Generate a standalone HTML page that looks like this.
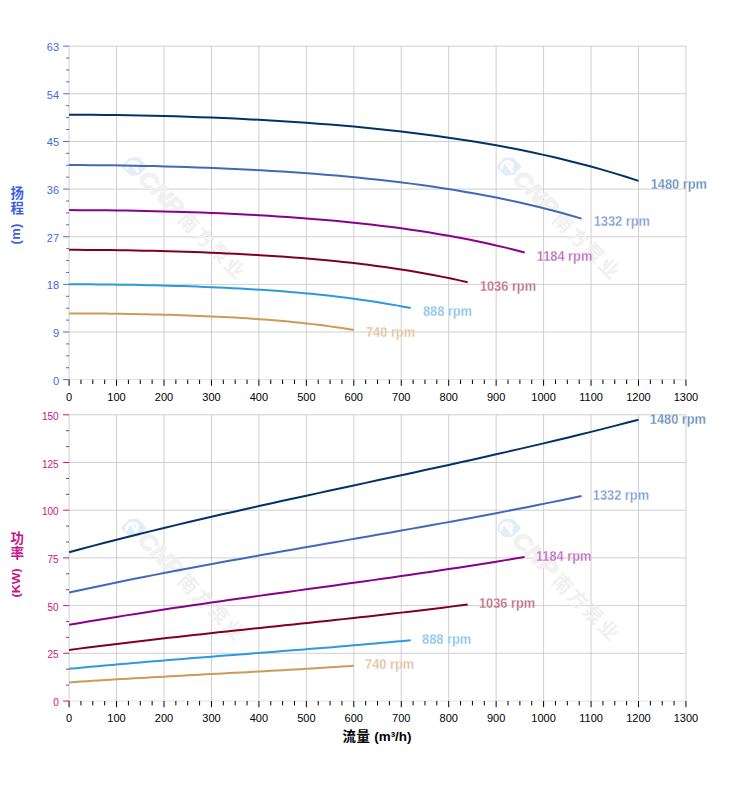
<!DOCTYPE html>
<html><head><meta charset="utf-8"><title>Pump curves</title>
<style>
html,body{margin:0;padding:0;background:#fff;overflow:hidden}
svg{display:block}
text{font-family:"Liberation Sans",sans-serif}
text.cjk{font-family:"Liberation Sans","Noto Sans CJK SC",sans-serif}
</style></head><body>
<svg width="752" height="797" viewBox="0 0 752 797">
<rect width="752" height="797" fill="#fff"/>
<g stroke="#cfcfcf" stroke-width="1" fill="none" shape-rendering="auto">
<line x1="69.1" y1="46.15" x2="69.1" y2="379.65"/>
<line x1="116.55" y1="46.15" x2="116.55" y2="379.65"/>
<line x1="164" y1="46.15" x2="164" y2="379.65"/>
<line x1="211.45" y1="46.15" x2="211.45" y2="379.65"/>
<line x1="258.9" y1="46.15" x2="258.9" y2="379.65"/>
<line x1="306.35" y1="46.15" x2="306.35" y2="379.65"/>
<line x1="353.8" y1="46.15" x2="353.8" y2="379.65"/>
<line x1="401.25" y1="46.15" x2="401.25" y2="379.65"/>
<line x1="448.7" y1="46.15" x2="448.7" y2="379.65"/>
<line x1="496.15" y1="46.15" x2="496.15" y2="379.65"/>
<line x1="543.6" y1="46.15" x2="543.6" y2="379.65"/>
<line x1="591.05" y1="46.15" x2="591.05" y2="379.65"/>
<line x1="638.5" y1="46.15" x2="638.5" y2="379.65"/>
<line x1="685.95" y1="46.15" x2="685.95" y2="379.65"/>
<line x1="69.1" y1="379.65" x2="685.95" y2="379.65" stroke="#e2e2e2"/>
<line x1="69.1" y1="332.01" x2="685.95" y2="332.01"/>
<line x1="69.1" y1="284.36" x2="685.95" y2="284.36"/>
<line x1="69.1" y1="236.72" x2="685.95" y2="236.72"/>
<line x1="69.1" y1="189.08" x2="685.95" y2="189.08"/>
<line x1="69.1" y1="141.44" x2="685.95" y2="141.44"/>
<line x1="69.1" y1="93.79" x2="685.95" y2="93.79"/>
<line x1="69.1" y1="46.15" x2="685.95" y2="46.15"/>
</g>
<g transform="translate(134.3 166.6)">
<path d="M-11 0 L-4.2 -7.4 L3.6 -7.9 L11 0 L4.2 7.2 L-3.4 7.6 Z" fill="#e2edf9" stroke="#e2edf9" stroke-width="3" stroke-linejoin="round"/>
<path d="M-7.3 1.6 C-7.8 -3.2 -2.6 -6.2 1.6 -4.4 C4.6 -3 4.4 0.4 1.4 1.4 M-1.8 -2.6 L3.2 4.6" stroke="#fff" stroke-width="2.9" fill="none" stroke-linecap="round"/>
</g>
<g transform="translate(135 166) rotate(45)">
<text x="11" y="8" font-size="22.5" font-weight="bold" font-style="italic" fill="#f1f1f1" stroke="#f1f1f1" stroke-width="1.4" textLength="53" lengthAdjust="spacingAndGlyphs">CNP</text>
<text class="cjk" x="68 89.6 111.2 132.8" y="9.1" font-size="19.5" font-weight="bold" fill="#f0f0f0">南方泵业</text>
</g>
<g transform="translate(508.8 166.6)">
<path d="M-11 0 L-4.2 -7.4 L3.6 -7.9 L11 0 L4.2 7.2 L-3.4 7.6 Z" fill="#e2edf9" stroke="#e2edf9" stroke-width="3" stroke-linejoin="round"/>
<path d="M-7.3 1.6 C-7.8 -3.2 -2.6 -6.2 1.6 -4.4 C4.6 -3 4.4 0.4 1.4 1.4 M-1.8 -2.6 L3.2 4.6" stroke="#fff" stroke-width="2.9" fill="none" stroke-linecap="round"/>
</g>
<g transform="translate(509.5 166) rotate(45)">
<text x="11" y="8" font-size="22.5" font-weight="bold" font-style="italic" fill="#f1f1f1" stroke="#f1f1f1" stroke-width="1.4" textLength="53" lengthAdjust="spacingAndGlyphs">CNP</text>
<text class="cjk" x="68 89.6 111.2 132.8" y="9.1" font-size="19.5" font-weight="bold" fill="#f0f0f0">南方泵业</text>
</g>
<g stroke="#4169e1" stroke-width="1">
<line x1="63.1" y1="379.65" x2="69.1" y2="379.65"/>
<line x1="66.1" y1="367.74" x2="69.1" y2="367.74"/>
<line x1="66.1" y1="355.83" x2="69.1" y2="355.83"/>
<line x1="66.1" y1="343.92" x2="69.1" y2="343.92"/>
<line x1="63.1" y1="332.01" x2="69.1" y2="332.01"/>
<line x1="66.1" y1="320.1" x2="69.1" y2="320.1"/>
<line x1="66.1" y1="308.19" x2="69.1" y2="308.19"/>
<line x1="66.1" y1="296.27" x2="69.1" y2="296.27"/>
<line x1="63.1" y1="284.36" x2="69.1" y2="284.36"/>
<line x1="66.1" y1="272.45" x2="69.1" y2="272.45"/>
<line x1="66.1" y1="260.54" x2="69.1" y2="260.54"/>
<line x1="66.1" y1="248.63" x2="69.1" y2="248.63"/>
<line x1="63.1" y1="236.72" x2="69.1" y2="236.72"/>
<line x1="66.1" y1="224.81" x2="69.1" y2="224.81"/>
<line x1="66.1" y1="212.9" x2="69.1" y2="212.9"/>
<line x1="66.1" y1="200.99" x2="69.1" y2="200.99"/>
<line x1="63.1" y1="189.08" x2="69.1" y2="189.08"/>
<line x1="66.1" y1="177.17" x2="69.1" y2="177.17"/>
<line x1="66.1" y1="165.26" x2="69.1" y2="165.26"/>
<line x1="66.1" y1="153.35" x2="69.1" y2="153.35"/>
<line x1="63.1" y1="141.44" x2="69.1" y2="141.44"/>
<line x1="66.1" y1="129.52" x2="69.1" y2="129.52"/>
<line x1="66.1" y1="117.61" x2="69.1" y2="117.61"/>
<line x1="66.1" y1="105.7" x2="69.1" y2="105.7"/>
<line x1="63.1" y1="93.79" x2="69.1" y2="93.79"/>
<line x1="66.1" y1="81.88" x2="69.1" y2="81.88"/>
<line x1="66.1" y1="69.97" x2="69.1" y2="69.97"/>
<line x1="66.1" y1="58.06" x2="69.1" y2="58.06"/>
<line x1="63.1" y1="46.15" x2="69.1" y2="46.15"/>
</g>
<g font-size="11" fill="#4169e1" text-anchor="end">
<text x="59.1" y="384.65">0</text>
<text x="59.1" y="337.01">9</text>
<text x="59.1" y="289.36">18</text>
<text x="59.1" y="241.72">27</text>
<text x="59.1" y="194.08">36</text>
<text x="59.1" y="146.44">45</text>
<text x="59.1" y="98.79">54</text>
<text x="59.1" y="51.15">63</text>
</g>
<g stroke="#000" stroke-width="1">
<line x1="69.1" y1="379.65" x2="69.1" y2="385.85"/>
<line x1="80.96" y1="379.65" x2="80.96" y2="384.05"/>
<line x1="92.82" y1="379.65" x2="92.82" y2="384.05"/>
<line x1="104.69" y1="379.65" x2="104.69" y2="384.05"/>
<line x1="116.55" y1="379.65" x2="116.55" y2="385.85"/>
<line x1="128.41" y1="379.65" x2="128.41" y2="384.05"/>
<line x1="140.27" y1="379.65" x2="140.27" y2="384.05"/>
<line x1="152.14" y1="379.65" x2="152.14" y2="384.05"/>
<line x1="164" y1="379.65" x2="164" y2="385.85"/>
<line x1="175.86" y1="379.65" x2="175.86" y2="384.05"/>
<line x1="187.72" y1="379.65" x2="187.72" y2="384.05"/>
<line x1="199.59" y1="379.65" x2="199.59" y2="384.05"/>
<line x1="211.45" y1="379.65" x2="211.45" y2="385.85"/>
<line x1="223.31" y1="379.65" x2="223.31" y2="384.05"/>
<line x1="235.17" y1="379.65" x2="235.17" y2="384.05"/>
<line x1="247.04" y1="379.65" x2="247.04" y2="384.05"/>
<line x1="258.9" y1="379.65" x2="258.9" y2="385.85"/>
<line x1="270.76" y1="379.65" x2="270.76" y2="384.05"/>
<line x1="282.62" y1="379.65" x2="282.62" y2="384.05"/>
<line x1="294.49" y1="379.65" x2="294.49" y2="384.05"/>
<line x1="306.35" y1="379.65" x2="306.35" y2="385.85"/>
<line x1="318.21" y1="379.65" x2="318.21" y2="384.05"/>
<line x1="330.07" y1="379.65" x2="330.07" y2="384.05"/>
<line x1="341.94" y1="379.65" x2="341.94" y2="384.05"/>
<line x1="353.8" y1="379.65" x2="353.8" y2="385.85"/>
<line x1="365.66" y1="379.65" x2="365.66" y2="384.05"/>
<line x1="377.52" y1="379.65" x2="377.52" y2="384.05"/>
<line x1="389.39" y1="379.65" x2="389.39" y2="384.05"/>
<line x1="401.25" y1="379.65" x2="401.25" y2="385.85"/>
<line x1="413.11" y1="379.65" x2="413.11" y2="384.05"/>
<line x1="424.98" y1="379.65" x2="424.98" y2="384.05"/>
<line x1="436.84" y1="379.65" x2="436.84" y2="384.05"/>
<line x1="448.7" y1="379.65" x2="448.7" y2="385.85"/>
<line x1="460.56" y1="379.65" x2="460.56" y2="384.05"/>
<line x1="472.42" y1="379.65" x2="472.42" y2="384.05"/>
<line x1="484.29" y1="379.65" x2="484.29" y2="384.05"/>
<line x1="496.15" y1="379.65" x2="496.15" y2="385.85"/>
<line x1="508.01" y1="379.65" x2="508.01" y2="384.05"/>
<line x1="519.88" y1="379.65" x2="519.88" y2="384.05"/>
<line x1="531.74" y1="379.65" x2="531.74" y2="384.05"/>
<line x1="543.6" y1="379.65" x2="543.6" y2="385.85"/>
<line x1="555.46" y1="379.65" x2="555.46" y2="384.05"/>
<line x1="567.32" y1="379.65" x2="567.32" y2="384.05"/>
<line x1="579.19" y1="379.65" x2="579.19" y2="384.05"/>
<line x1="591.05" y1="379.65" x2="591.05" y2="385.85"/>
<line x1="602.91" y1="379.65" x2="602.91" y2="384.05"/>
<line x1="614.77" y1="379.65" x2="614.77" y2="384.05"/>
<line x1="626.64" y1="379.65" x2="626.64" y2="384.05"/>
<line x1="638.5" y1="379.65" x2="638.5" y2="385.85"/>
<line x1="650.36" y1="379.65" x2="650.36" y2="384.05"/>
<line x1="662.23" y1="379.65" x2="662.23" y2="384.05"/>
<line x1="674.09" y1="379.65" x2="674.09" y2="384.05"/>
<line x1="685.95" y1="379.65" x2="685.95" y2="385.85"/>
</g>
<g font-size="11" fill="#000" text-anchor="middle">
<text x="69.1" y="401.15">0</text>
<text x="116.55" y="401.15">100</text>
<text x="164" y="401.15">200</text>
<text x="211.45" y="401.15">300</text>
<text x="258.9" y="401.15">400</text>
<text x="306.35" y="401.15">500</text>
<text x="353.8" y="401.15">600</text>
<text x="401.25" y="401.15">700</text>
<text x="448.7" y="401.15">800</text>
<text x="496.15" y="401.15">900</text>
<text x="543.6" y="401.15">1000</text>
<text x="591.05" y="401.15">1100</text>
<text x="638.5" y="401.15">1200</text>
<text x="685.95" y="401.15">1300</text>
</g>
<polyline points="69.1,114.77 80.96,114.78 92.82,114.85 104.69,114.94 116.55,115.08 128.41,115.26 140.27,115.48 152.14,115.73 164,116.02 175.86,116.35 187.72,116.72 199.59,117.13 211.45,117.58 223.31,118.07 235.17,118.6 247.04,119.18 258.9,119.8 270.76,120.47 282.62,121.18 294.49,121.95 306.35,122.77 318.21,123.64 330.07,124.57 341.94,125.55 353.8,126.61 365.66,127.72 377.52,128.91 389.39,130.16 401.25,131.49 413.11,132.91 424.98,134.4 436.84,135.98 448.7,137.65 460.56,139.42 472.42,141.29 484.29,143.26 496.15,145.34 508.01,147.54 519.88,149.85 531.74,152.29 543.6,154.86 555.46,157.57 567.32,160.42 579.19,163.42 591.05,166.58 602.91,169.89 614.77,173.37 626.64,177.03 638.5,180.87" fill="none" stroke="#003366" stroke-width="2" stroke-linecap="butt" stroke-linejoin="round"/>
<text transform="translate(650.7 188.5) scale(1 1.09)" font-size="12.8" font-weight="bold" fill="#5d8bbb" stroke="#fff" stroke-width="0.25">1480 rpm</text>
<polyline points="69.1,165.09 79.78,165.11 90.45,165.16 101.13,165.24 111.8,165.35 122.48,165.5 133.16,165.67 143.83,165.88 154.51,166.11 165.19,166.38 175.86,166.68 186.54,167.01 197.21,167.38 207.89,167.77 218.57,168.2 229.24,168.67 239.92,169.17 250.6,169.71 261.27,170.29 271.95,170.91 282.62,171.57 293.3,172.28 303.98,173.03 314.65,173.83 325.33,174.68 336.01,175.59 346.68,176.55 357.36,177.57 368.03,178.64 378.71,179.79 389.39,181 400.06,182.28 410.74,183.63 421.42,185.06 432.09,186.58 442.77,188.17 453.44,189.86 464.12,191.64 474.8,193.51 485.47,195.49 496.15,197.57 506.83,199.77 517.5,202.08 528.18,204.51 538.86,207.06 549.53,209.75 560.21,212.57 570.88,215.53 581.56,218.64" fill="none" stroke="#4169b8" stroke-width="2" stroke-linecap="butt" stroke-linejoin="round"/>
<text transform="translate(593.76 226.3) scale(1 1.09)" font-size="12.8" font-weight="bold" fill="#7a9bd6" stroke="#fff" stroke-width="0.25">1332 rpm</text>
<polyline points="69.1,210.12 78.59,210.14 88.08,210.17 97.57,210.24 107.06,210.33 116.55,210.44 126.04,210.58 135.53,210.74 145.02,210.93 154.51,211.14 164,211.38 173.49,211.64 182.98,211.93 192.47,212.24 201.96,212.58 211.45,212.95 220.94,213.35 230.43,213.77 239.92,214.23 249.41,214.72 258.9,215.24 268.39,215.8 277.88,216.4 287.37,217.03 296.86,217.7 306.35,218.42 315.84,219.17 325.33,219.98 334.82,220.83 344.31,221.73 353.8,222.69 363.29,223.7 372.78,224.77 382.27,225.9 391.76,227.1 401.25,228.36 410.74,229.69 420.23,231.1 429.72,232.58 439.21,234.14 448.7,235.79 458.19,237.52 467.68,239.34 477.17,241.26 486.66,243.28 496.15,245.4 505.64,247.63 515.13,249.97 524.62,252.43" fill="none" stroke="#8b008b" stroke-width="2" stroke-linecap="butt" stroke-linejoin="round"/>
<text transform="translate(536.82 260.8) scale(1 1.09)" font-size="12.8" font-weight="bold" fill="#b968b9" stroke="#fff" stroke-width="0.25">1184 rpm</text>
<polyline points="69.1,249.86 77.4,249.87 85.71,249.9 94.01,249.94 102.31,250.01 110.62,250.1 118.92,250.21 127.23,250.33 135.53,250.47 143.83,250.64 152.14,250.82 160.44,251.02 168.75,251.24 177.05,251.48 185.35,251.74 193.66,252.02 201.96,252.32 210.26,252.65 218.57,253 226.87,253.38 235.17,253.78 243.48,254.2 251.78,254.66 260.09,255.14 268.39,255.66 276.69,256.21 285,256.79 293.3,257.4 301.61,258.05 309.91,258.75 318.21,259.48 326.52,260.25 334.82,261.07 343.12,261.94 351.43,262.85 359.73,263.82 368.03,264.84 376.34,265.91 384.64,267.05 392.95,268.24 401.25,269.5 409.55,270.83 417.86,272.23 426.16,273.7 434.47,275.24 442.77,276.87 451.07,278.57 459.38,280.37 467.68,282.25" fill="none" stroke="#800020" stroke-width="2" stroke-linecap="butt" stroke-linejoin="round"/>
<text transform="translate(479.88 290.6) scale(1 1.09)" font-size="12.8" font-weight="bold" fill="#bb687e" stroke="#fff" stroke-width="0.25">1036 rpm</text>
<polyline points="69.1,284.29 76.22,284.3 83.33,284.32 90.45,284.36 97.57,284.41 104.69,284.47 111.8,284.55 118.92,284.64 126.04,284.74 133.16,284.86 140.27,285 147.39,285.14 154.51,285.31 161.63,285.48 168.75,285.67 175.86,285.88 182.98,286.1 190.1,286.34 197.21,286.6 204.33,286.88 211.45,287.17 218.57,287.49 225.68,287.82 232.8,288.18 239.92,288.55 247.04,288.96 254.15,289.38 261.27,289.83 268.39,290.31 275.51,290.82 282.62,291.36 289.74,291.93 296.86,292.53 303.98,293.17 311.09,293.84 318.21,294.55 325.33,295.3 332.45,296.09 339.56,296.92 346.68,297.8 353.8,298.73 360.92,299.7 368.03,300.73 375.15,301.81 382.27,302.94 389.39,304.14 396.5,305.39 403.62,306.71 410.74,308.09" fill="none" stroke="#2b9ade" stroke-width="2" stroke-linecap="butt" stroke-linejoin="round"/>
<text transform="translate(422.94 315.5) scale(1 1.09)" font-size="12.8" font-weight="bold" fill="#7fc1ec" stroke="#fff" stroke-width="0.25">888 rpm</text>
<polyline points="69.1,313.43 75.03,313.43 80.96,313.45 86.89,313.47 92.82,313.51 98.76,313.55 104.69,313.61 110.62,313.67 116.55,313.74 122.48,313.83 128.41,313.92 134.34,314.02 140.27,314.13 146.21,314.26 152.14,314.39 158.07,314.53 164,314.69 169.93,314.85 175.86,315.03 181.79,315.22 187.72,315.43 193.66,315.65 199.59,315.88 205.52,316.13 211.45,316.39 217.38,316.67 223.31,316.96 229.24,317.28 235.17,317.61 241.11,317.96 247.04,318.34 252.97,318.73 258.9,319.15 264.83,319.59 270.76,320.06 276.69,320.55 282.62,321.07 288.56,321.62 294.49,322.2 300.42,322.81 306.35,323.45 312.28,324.13 318.21,324.84 324.14,325.59 330.07,326.38 336.01,327.21 341.94,328.08 347.87,329 353.8,329.95" fill="none" stroke="#cd9a5b" stroke-width="2" stroke-linecap="butt" stroke-linejoin="round"/>
<text transform="translate(366 337.4) scale(1 1.09)" font-size="12.8" font-weight="bold" fill="#dfbd95" stroke="#fff" stroke-width="0.25">740 rpm</text>
<g stroke="#cfcfcf" stroke-width="1" fill="none" shape-rendering="auto">
<line x1="69.1" y1="414.8" x2="69.1" y2="701"/>
<line x1="116.55" y1="414.8" x2="116.55" y2="701"/>
<line x1="164" y1="414.8" x2="164" y2="701"/>
<line x1="211.45" y1="414.8" x2="211.45" y2="701"/>
<line x1="258.9" y1="414.8" x2="258.9" y2="701"/>
<line x1="306.35" y1="414.8" x2="306.35" y2="701"/>
<line x1="353.8" y1="414.8" x2="353.8" y2="701"/>
<line x1="401.25" y1="414.8" x2="401.25" y2="701"/>
<line x1="448.7" y1="414.8" x2="448.7" y2="701"/>
<line x1="496.15" y1="414.8" x2="496.15" y2="701"/>
<line x1="543.6" y1="414.8" x2="543.6" y2="701"/>
<line x1="591.05" y1="414.8" x2="591.05" y2="701"/>
<line x1="638.5" y1="414.8" x2="638.5" y2="701"/>
<line x1="685.95" y1="414.8" x2="685.95" y2="701"/>
<line x1="69.1" y1="701" x2="685.95" y2="701" stroke="#e2e2e2"/>
<line x1="69.1" y1="653.3" x2="685.95" y2="653.3"/>
<line x1="69.1" y1="605.6" x2="685.95" y2="605.6"/>
<line x1="69.1" y1="557.9" x2="685.95" y2="557.9"/>
<line x1="69.1" y1="510.2" x2="685.95" y2="510.2"/>
<line x1="69.1" y1="462.5" x2="685.95" y2="462.5"/>
<line x1="69.1" y1="414.8" x2="685.95" y2="414.8"/>
</g>
<g transform="translate(133.8 528.1)">
<path d="M-11 0 L-4.2 -7.4 L3.6 -7.9 L11 0 L4.2 7.2 L-3.4 7.6 Z" fill="#e2edf9" stroke="#e2edf9" stroke-width="3" stroke-linejoin="round"/>
<path d="M-7.3 1.6 C-7.8 -3.2 -2.6 -6.2 1.6 -4.4 C4.6 -3 4.4 0.4 1.4 1.4 M-1.8 -2.6 L3.2 4.6" stroke="#fff" stroke-width="2.9" fill="none" stroke-linecap="round"/>
</g>
<g transform="translate(134.5 527.5) rotate(45)">
<text x="11" y="8" font-size="22.5" font-weight="bold" font-style="italic" fill="#f1f1f1" stroke="#f1f1f1" stroke-width="1.4" textLength="53" lengthAdjust="spacingAndGlyphs">CNP</text>
<text class="cjk" x="68 89.6 111.2 132.8" y="9.1" font-size="19.5" font-weight="bold" fill="#f0f0f0">南方泵业</text>
</g>
<g transform="translate(508.3 528.1)">
<path d="M-11 0 L-4.2 -7.4 L3.6 -7.9 L11 0 L4.2 7.2 L-3.4 7.6 Z" fill="#e2edf9" stroke="#e2edf9" stroke-width="3" stroke-linejoin="round"/>
<path d="M-7.3 1.6 C-7.8 -3.2 -2.6 -6.2 1.6 -4.4 C4.6 -3 4.4 0.4 1.4 1.4 M-1.8 -2.6 L3.2 4.6" stroke="#fff" stroke-width="2.9" fill="none" stroke-linecap="round"/>
</g>
<g transform="translate(509 527.5) rotate(45)">
<text x="11" y="8" font-size="22.5" font-weight="bold" font-style="italic" fill="#f1f1f1" stroke="#f1f1f1" stroke-width="1.4" textLength="53" lengthAdjust="spacingAndGlyphs">CNP</text>
<text class="cjk" x="68 89.6 111.2 132.8" y="9.1" font-size="19.5" font-weight="bold" fill="#f0f0f0">南方泵业</text>
</g>
<g stroke="#c71585" stroke-width="1">
<line x1="63.1" y1="701" x2="69.1" y2="701"/>
<line x1="66.1" y1="685.1" x2="69.1" y2="685.1"/>
<line x1="66.1" y1="669.2" x2="69.1" y2="669.2"/>
<line x1="63.1" y1="653.3" x2="69.1" y2="653.3"/>
<line x1="66.1" y1="637.4" x2="69.1" y2="637.4"/>
<line x1="66.1" y1="621.5" x2="69.1" y2="621.5"/>
<line x1="63.1" y1="605.6" x2="69.1" y2="605.6"/>
<line x1="66.1" y1="589.7" x2="69.1" y2="589.7"/>
<line x1="66.1" y1="573.8" x2="69.1" y2="573.8"/>
<line x1="63.1" y1="557.9" x2="69.1" y2="557.9"/>
<line x1="66.1" y1="542" x2="69.1" y2="542"/>
<line x1="66.1" y1="526.1" x2="69.1" y2="526.1"/>
<line x1="63.1" y1="510.2" x2="69.1" y2="510.2"/>
<line x1="66.1" y1="494.3" x2="69.1" y2="494.3"/>
<line x1="66.1" y1="478.4" x2="69.1" y2="478.4"/>
<line x1="63.1" y1="462.5" x2="69.1" y2="462.5"/>
<line x1="66.1" y1="446.6" x2="69.1" y2="446.6"/>
<line x1="66.1" y1="430.7" x2="69.1" y2="430.7"/>
<line x1="63.1" y1="414.8" x2="69.1" y2="414.8"/>
</g>
<g font-size="10" fill="#c71585" text-anchor="end">
<text x="58.7" y="706.1">0</text>
<text x="58.7" y="658.4">25</text>
<text x="58.7" y="610.7">50</text>
<text x="58.7" y="563">75</text>
<text x="58.7" y="515.3">100</text>
<text x="58.7" y="467.6">125</text>
<text x="58.7" y="419.9">150</text>
</g>
<g stroke="#000" stroke-width="1">
<line x1="69.1" y1="701" x2="69.1" y2="707.2"/>
<line x1="80.96" y1="701" x2="80.96" y2="705.4"/>
<line x1="92.82" y1="701" x2="92.82" y2="705.4"/>
<line x1="104.69" y1="701" x2="104.69" y2="705.4"/>
<line x1="116.55" y1="701" x2="116.55" y2="707.2"/>
<line x1="128.41" y1="701" x2="128.41" y2="705.4"/>
<line x1="140.27" y1="701" x2="140.27" y2="705.4"/>
<line x1="152.14" y1="701" x2="152.14" y2="705.4"/>
<line x1="164" y1="701" x2="164" y2="707.2"/>
<line x1="175.86" y1="701" x2="175.86" y2="705.4"/>
<line x1="187.72" y1="701" x2="187.72" y2="705.4"/>
<line x1="199.59" y1="701" x2="199.59" y2="705.4"/>
<line x1="211.45" y1="701" x2="211.45" y2="707.2"/>
<line x1="223.31" y1="701" x2="223.31" y2="705.4"/>
<line x1="235.17" y1="701" x2="235.17" y2="705.4"/>
<line x1="247.04" y1="701" x2="247.04" y2="705.4"/>
<line x1="258.9" y1="701" x2="258.9" y2="707.2"/>
<line x1="270.76" y1="701" x2="270.76" y2="705.4"/>
<line x1="282.62" y1="701" x2="282.62" y2="705.4"/>
<line x1="294.49" y1="701" x2="294.49" y2="705.4"/>
<line x1="306.35" y1="701" x2="306.35" y2="707.2"/>
<line x1="318.21" y1="701" x2="318.21" y2="705.4"/>
<line x1="330.07" y1="701" x2="330.07" y2="705.4"/>
<line x1="341.94" y1="701" x2="341.94" y2="705.4"/>
<line x1="353.8" y1="701" x2="353.8" y2="707.2"/>
<line x1="365.66" y1="701" x2="365.66" y2="705.4"/>
<line x1="377.52" y1="701" x2="377.52" y2="705.4"/>
<line x1="389.39" y1="701" x2="389.39" y2="705.4"/>
<line x1="401.25" y1="701" x2="401.25" y2="707.2"/>
<line x1="413.11" y1="701" x2="413.11" y2="705.4"/>
<line x1="424.98" y1="701" x2="424.98" y2="705.4"/>
<line x1="436.84" y1="701" x2="436.84" y2="705.4"/>
<line x1="448.7" y1="701" x2="448.7" y2="707.2"/>
<line x1="460.56" y1="701" x2="460.56" y2="705.4"/>
<line x1="472.42" y1="701" x2="472.42" y2="705.4"/>
<line x1="484.29" y1="701" x2="484.29" y2="705.4"/>
<line x1="496.15" y1="701" x2="496.15" y2="707.2"/>
<line x1="508.01" y1="701" x2="508.01" y2="705.4"/>
<line x1="519.88" y1="701" x2="519.88" y2="705.4"/>
<line x1="531.74" y1="701" x2="531.74" y2="705.4"/>
<line x1="543.6" y1="701" x2="543.6" y2="707.2"/>
<line x1="555.46" y1="701" x2="555.46" y2="705.4"/>
<line x1="567.32" y1="701" x2="567.32" y2="705.4"/>
<line x1="579.19" y1="701" x2="579.19" y2="705.4"/>
<line x1="591.05" y1="701" x2="591.05" y2="707.2"/>
<line x1="602.91" y1="701" x2="602.91" y2="705.4"/>
<line x1="614.77" y1="701" x2="614.77" y2="705.4"/>
<line x1="626.64" y1="701" x2="626.64" y2="705.4"/>
<line x1="638.5" y1="701" x2="638.5" y2="707.2"/>
<line x1="650.36" y1="701" x2="650.36" y2="705.4"/>
<line x1="662.23" y1="701" x2="662.23" y2="705.4"/>
<line x1="674.09" y1="701" x2="674.09" y2="705.4"/>
<line x1="685.95" y1="701" x2="685.95" y2="707.2"/>
</g>
<g font-size="11" fill="#000" text-anchor="middle">
<text x="69.1" y="721.9">0</text>
<text x="116.55" y="721.9">100</text>
<text x="164" y="721.9">200</text>
<text x="211.45" y="721.9">300</text>
<text x="258.9" y="721.9">400</text>
<text x="306.35" y="721.9">500</text>
<text x="353.8" y="721.9">600</text>
<text x="401.25" y="721.9">700</text>
<text x="448.7" y="721.9">800</text>
<text x="496.15" y="721.9">900</text>
<text x="543.6" y="721.9">1000</text>
<text x="591.05" y="721.9">1100</text>
<text x="638.5" y="721.9">1200</text>
<text x="685.95" y="721.9">1300</text>
</g>
<polyline points="69.1,552.22 80.96,549.02 92.82,545.88 104.69,542.78 116.55,539.73 128.41,536.73 140.27,533.77 152.14,530.86 164,527.98 175.86,525.14 187.72,522.33 199.59,519.55 211.45,516.81 223.31,514.09 235.17,511.4 247.04,508.74 258.9,506.09 270.76,503.46 282.62,500.85 294.49,498.26 306.35,495.68 318.21,493.11 330.07,490.54 341.94,487.99 353.8,485.44 365.66,482.89 377.52,480.33 389.39,477.78 401.25,475.22 413.11,472.66 424.98,470.08 436.84,467.5 448.7,464.9 460.56,462.28 472.42,459.65 484.29,457 496.15,454.32 508.01,451.62 519.88,448.9 531.74,446.14 543.6,443.36 555.46,440.54 567.32,437.68 579.19,434.79 591.05,431.86 602.91,428.89 614.77,425.87 626.64,422.8 638.5,419.69" fill="none" stroke="#003366" stroke-width="2" stroke-linecap="butt" stroke-linejoin="round"/>
<text transform="translate(649.8 423.8) scale(1 1.09)" font-size="12.8" font-weight="bold" fill="#5d8bbb" stroke="#fff" stroke-width="0.25">1480 rpm</text>
<polyline points="69.1,592.54 79.78,590.21 90.45,587.92 101.13,585.66 111.8,583.44 122.48,581.25 133.16,579.09 143.83,576.97 154.51,574.87 165.19,572.79 175.86,570.75 186.54,568.73 197.21,566.73 207.89,564.74 218.57,562.78 229.24,560.84 239.92,558.91 250.6,557 261.27,555.09 271.95,553.2 282.62,551.32 293.3,549.45 303.98,547.58 314.65,545.71 325.33,543.85 336.01,541.99 346.68,540.13 357.36,538.27 368.03,536.41 378.71,534.54 389.39,532.66 400.06,530.78 410.74,528.88 421.42,526.98 432.09,525.06 442.77,523.12 453.44,521.17 464.12,519.2 474.8,517.22 485.47,515.21 496.15,513.18 506.83,511.12 517.5,509.04 528.18,506.93 538.86,504.8 549.53,502.63 560.21,500.43 570.88,498.2 581.56,495.93" fill="none" stroke="#4169b8" stroke-width="2" stroke-linecap="butt" stroke-linejoin="round"/>
<text transform="translate(592.86 499.6) scale(1 1.09)" font-size="12.8" font-weight="bold" fill="#7a9bd6" stroke="#fff" stroke-width="0.25">1332 rpm</text>
<polyline points="69.1,624.82 78.59,623.19 88.08,621.58 97.57,619.99 107.06,618.43 116.55,616.89 126.04,615.38 135.53,613.89 145.02,612.41 154.51,610.96 164,609.52 173.49,608.1 182.98,606.69 192.47,605.3 201.96,603.93 211.45,602.56 220.94,601.21 230.43,599.86 239.92,598.53 249.41,597.2 258.9,595.88 268.39,594.56 277.88,593.25 287.37,591.94 296.86,590.63 306.35,589.33 315.84,588.02 325.33,586.71 334.82,585.4 344.31,584.09 353.8,582.77 363.29,581.45 372.78,580.12 382.27,578.78 391.76,577.43 401.25,576.07 410.74,574.7 420.23,573.32 429.72,571.92 439.21,570.51 448.7,569.09 458.19,567.64 467.68,566.18 477.17,564.7 486.66,563.2 496.15,561.68 505.64,560.13 515.13,558.56 524.62,556.97" fill="none" stroke="#8b008b" stroke-width="2" stroke-linecap="butt" stroke-linejoin="round"/>
<text transform="translate(535.92 560.6) scale(1 1.09)" font-size="12.8" font-weight="bold" fill="#b968b9" stroke="#fff" stroke-width="0.25">1184 rpm</text>
<polyline points="69.1,649.97 77.4,648.87 85.71,647.79 94.01,646.73 102.31,645.69 110.62,644.66 118.92,643.64 127.23,642.64 135.53,641.65 143.83,640.68 152.14,639.72 160.44,638.76 168.75,637.82 177.05,636.89 185.35,635.97 193.66,635.05 201.96,634.15 210.26,633.24 218.57,632.35 226.87,631.46 235.17,630.57 243.48,629.69 251.78,628.81 260.09,627.94 268.39,627.06 276.69,626.19 285,625.31 293.3,624.44 301.61,623.56 309.91,622.68 318.21,621.8 326.52,620.91 334.82,620.02 343.12,619.12 351.43,618.22 359.73,617.31 368.03,616.39 376.34,615.46 384.64,614.53 392.95,613.58 401.25,612.63 409.55,611.66 417.86,610.68 426.16,609.69 434.47,608.68 442.77,607.66 451.07,606.63 459.38,605.58 467.68,604.51" fill="none" stroke="#800020" stroke-width="2" stroke-linecap="butt" stroke-linejoin="round"/>
<text transform="translate(478.98 608.3) scale(1 1.09)" font-size="12.8" font-weight="bold" fill="#bb687e" stroke="#fff" stroke-width="0.25">1036 rpm</text>
<polyline points="69.1,668.86 76.22,668.17 83.33,667.49 90.45,666.82 97.57,666.17 104.69,665.52 111.8,664.88 118.92,664.25 126.04,663.63 133.16,663.01 140.27,662.41 147.39,661.81 154.51,661.21 161.63,660.63 168.75,660.05 175.86,659.47 182.98,658.9 190.1,658.33 197.21,657.77 204.33,657.21 211.45,656.65 218.57,656.1 225.68,655.54 232.8,654.99 239.92,654.44 247.04,653.89 254.15,653.34 261.27,652.78 268.39,652.23 275.51,651.68 282.62,651.12 289.74,650.56 296.86,650 303.98,649.44 311.09,648.87 318.21,648.3 325.33,647.72 332.45,647.13 339.56,646.55 346.68,645.95 353.8,645.35 360.92,644.74 368.03,644.12 375.15,643.5 382.27,642.87 389.39,642.22 396.5,641.57 403.62,640.91 410.74,640.24" fill="none" stroke="#2b9ade" stroke-width="2" stroke-linecap="butt" stroke-linejoin="round"/>
<text transform="translate(422.04 643.7) scale(1 1.09)" font-size="12.8" font-weight="bold" fill="#7fc1ec" stroke="#fff" stroke-width="0.25">888 rpm</text>
<polyline points="69.1,682.4 75.03,682 80.96,681.61 86.89,681.22 92.82,680.84 98.76,680.47 104.69,680.1 110.62,679.73 116.55,679.37 122.48,679.02 128.41,678.67 134.34,678.32 140.27,677.98 146.21,677.64 152.14,677.3 158.07,676.97 164,676.64 169.93,676.31 175.86,675.98 181.79,675.66 187.72,675.33 193.66,675.01 199.59,674.69 205.52,674.37 211.45,674.05 217.38,673.74 223.31,673.42 229.24,673.1 235.17,672.78 241.11,672.46 247.04,672.14 252.97,671.81 258.9,671.49 264.83,671.16 270.76,670.83 276.69,670.5 282.62,670.17 288.56,669.83 294.49,669.49 300.42,669.14 306.35,668.79 312.28,668.44 318.21,668.09 324.14,667.72 330.07,667.36 336.01,666.99 341.94,666.61 347.87,666.23 353.8,665.84" fill="none" stroke="#cd9a5b" stroke-width="2" stroke-linecap="butt" stroke-linejoin="round"/>
<text transform="translate(365.1 669.4) scale(1 1.09)" font-size="12.8" font-weight="bold" fill="#dfbd95" stroke="#fff" stroke-width="0.25">740 rpm</text>
<text class="cjk" x="10.6" y="198.2" font-size="13.4" font-weight="bold" fill="#3b60e4">扬</text>
<text class="cjk" x="10.6" y="212.8" font-size="13.4" font-weight="bold" fill="#3b60e4">程</text>
<text transform="translate(19.6 244.6) rotate(-90)" font-size="13" letter-spacing="0.4" font-weight="bold" fill="#3b60e4">(m)</text>
<text class="cjk" x="10.6" y="542.9" font-size="13.4" font-weight="bold" fill="#c71585">功</text>
<text class="cjk" x="10.6" y="558.4" font-size="13.6" font-weight="bold" fill="#c71585">率</text>
<text transform="translate(19.8 597.4) rotate(-90) scale(1 0.88)" font-size="12.5" font-weight="bold" fill="#c71585">(KW)</text>
<text class="cjk" x="342.4 356.4" y="741.3" font-size="13.4" font-weight="bold" fill="#000">流量</text>
<text x="374.3" y="741" font-size="13.4" font-weight="bold" fill="#000">(m³/h)</text>
</svg>
</body></html>
